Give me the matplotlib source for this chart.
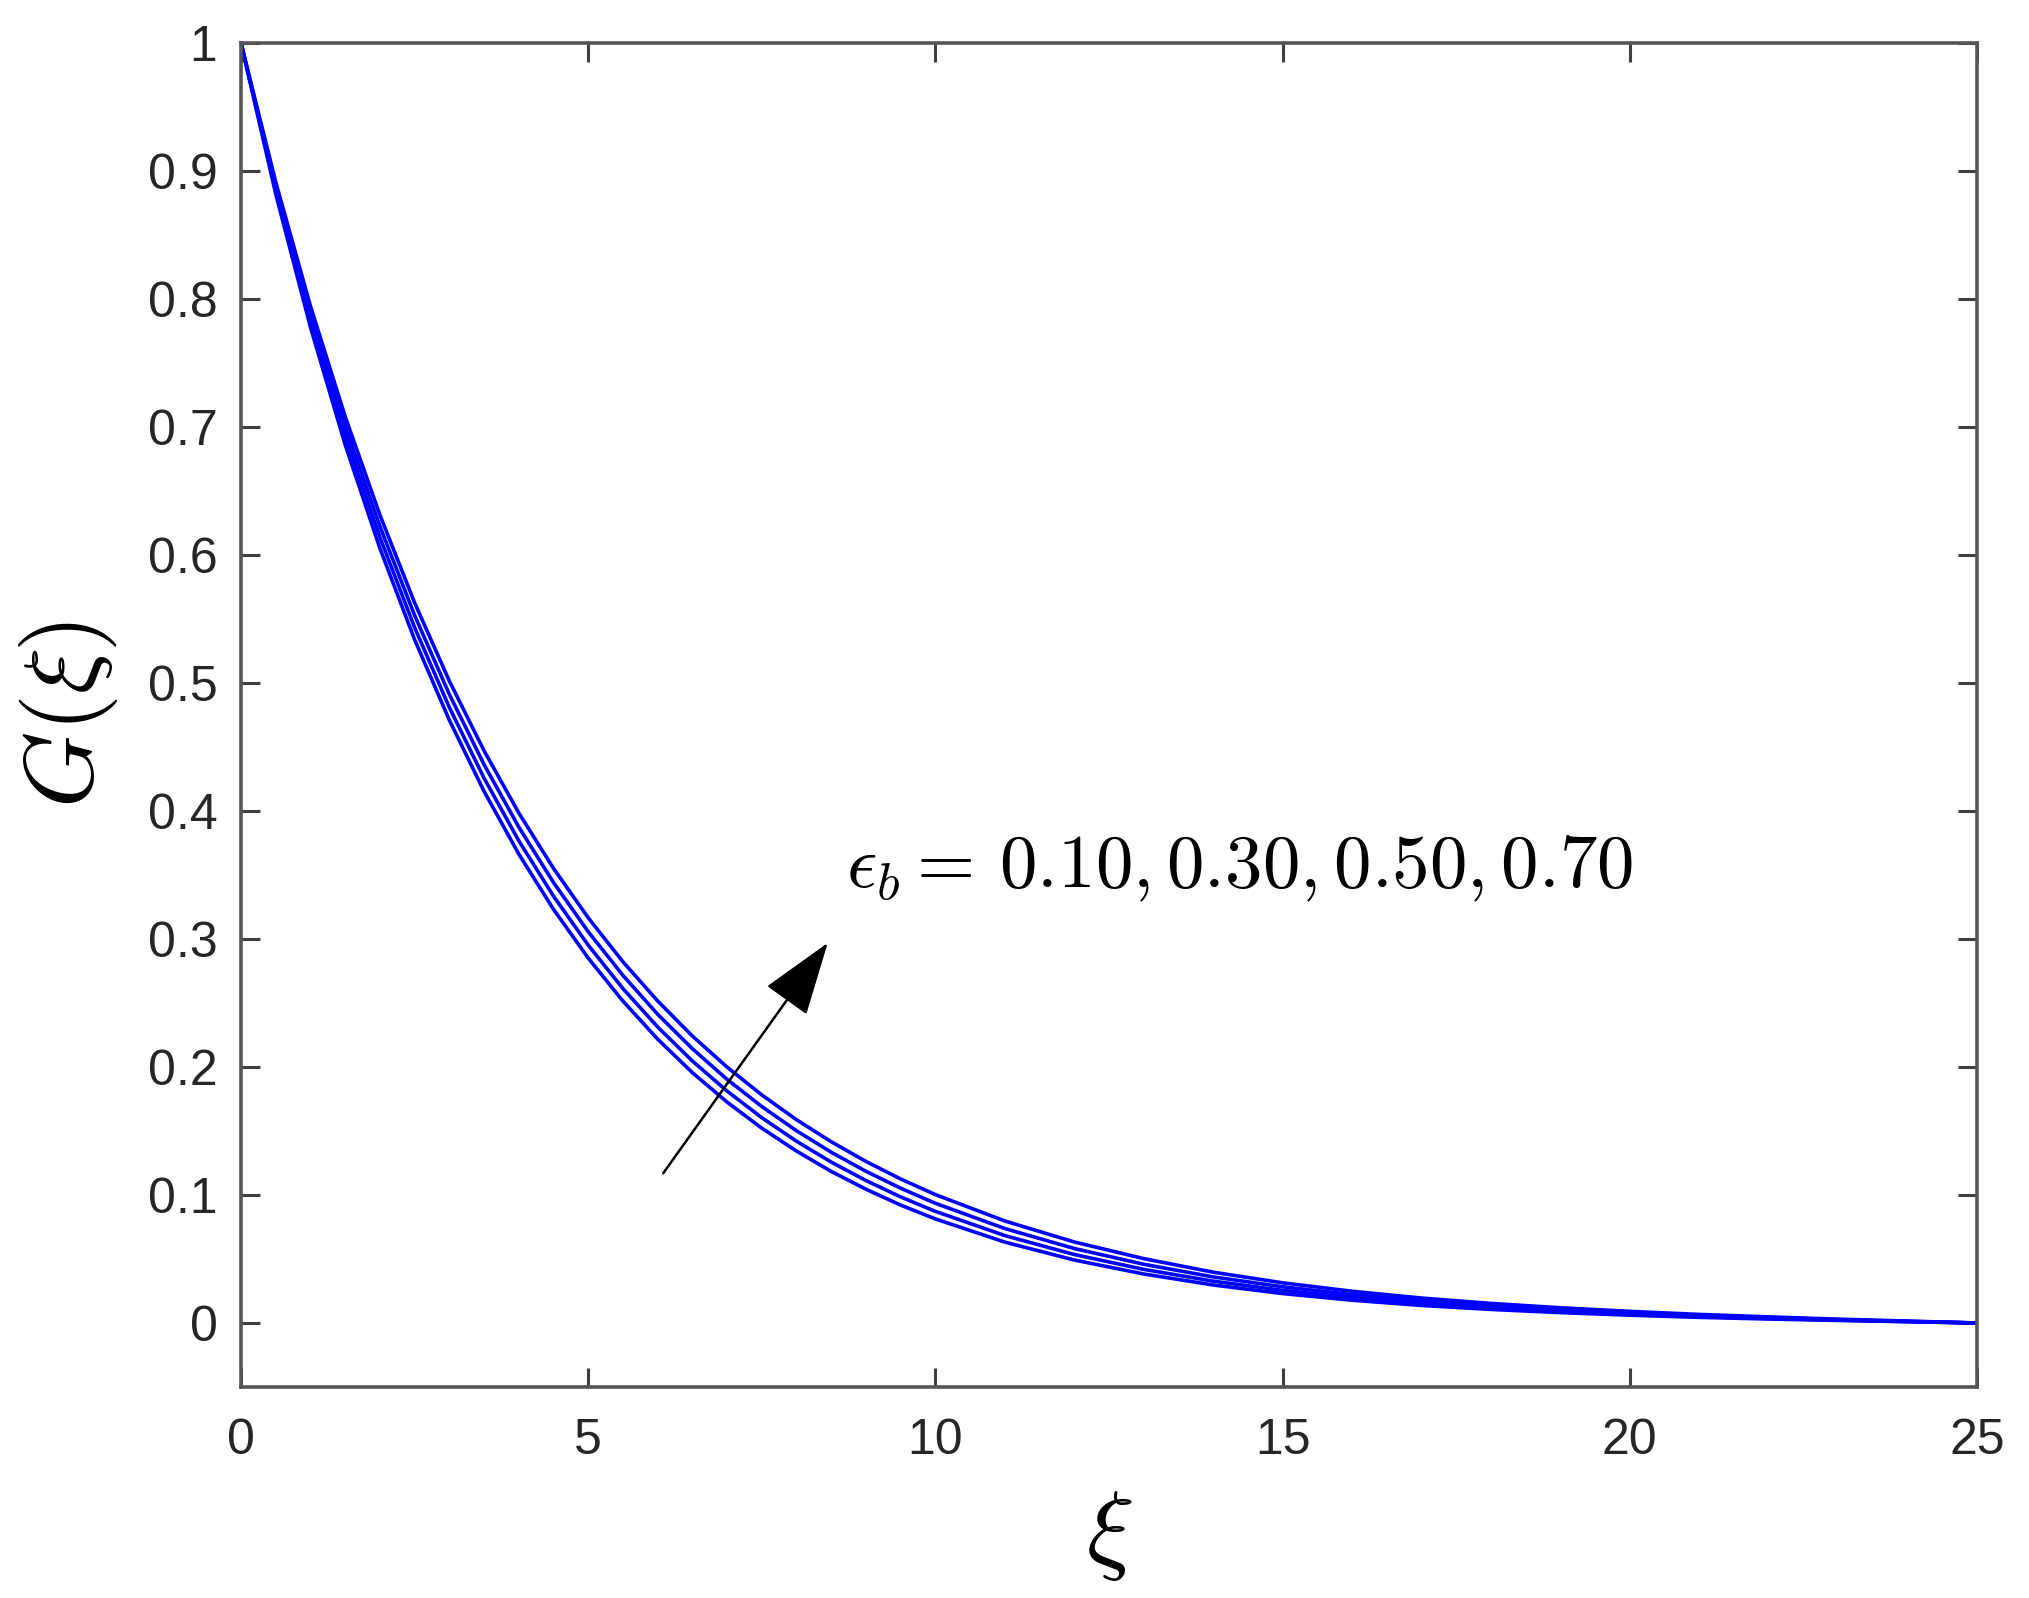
import numpy as np
from matplotlib import pyplot as plt

plt.rcParams['mathtext.fontset'] = 'cm'
plt.rcParams['font.family'] = ['Liberation Sans', 'DejaVu Sans']

xi = [0, 0.5, 1, 1.5, 2, 2.5, 3, 3.5, 4, 4.5, 5, 5.5, 6, 6.5, 7, 7.5, 8, 8.5, 9, 9.5,
      10, 11, 12, 13, 14, 15, 16, 17, 18, 19, 20, 21, 22, 23, 24, 25]

# eps_b = 0.10 (lowest curve)
g_010 = [1.0, 0.8821, 0.7780, 0.6862, 0.6053, 0.5339, 0.4710, 0.4154, 0.3664, 0.3232,
         0.2851, 0.2515, 0.2218, 0.1956, 0.1726, 0.1522, 0.1343, 0.1184, 0.1045, 0.0921,
         0.0813, 0.0632, 0.0492, 0.0383, 0.0297, 0.0230, 0.0178, 0.0137, 0.0106, 0.0081,
         0.0061, 0.0044, 0.0031, 0.0020, 0.0010, 0.0]
# eps_b = 0.30
g_030 = [1.0, 0.8851, 0.7835, 0.6935, 0.6139, 0.5434, 0.4810, 0.4257, 0.3768, 0.3335,
         0.2952, 0.2613, 0.2313, 0.2047, 0.1812, 0.1604, 0.1420, 0.1257, 0.1113, 0.0985,
         0.0872, 0.0683, 0.0535, 0.0419, 0.0327, 0.0255, 0.0199, 0.0155, 0.0120, 0.0092,
         0.0069, 0.0051, 0.0036, 0.0023, 0.0011, 0.0]
# eps_b = 0.50
g_050 = [1.0, 0.8882, 0.7890, 0.7008, 0.6225, 0.5529, 0.4912, 0.4363, 0.3875, 0.3442,
         0.3057, 0.2716, 0.2412, 0.2143, 0.1903, 0.1691, 0.1502, 0.1334, 0.1185, 0.1053,
         0.0935, 0.0738, 0.0582, 0.0459, 0.0360, 0.0283, 0.0222, 0.0174, 0.0135, 0.0104,
         0.0079, 0.0059, 0.0041, 0.0026, 0.0013, 0.0]
# eps_b = 0.70 (highest curve)
g_070 = [1.0, 0.8914, 0.7945, 0.7082, 0.6313, 0.5627, 0.5016, 0.4471, 0.3985, 0.3552,
         0.3166, 0.2822, 0.2516, 0.2242, 0.1999, 0.1782, 0.1588, 0.1416, 0.1262, 0.1125,
         0.1003, 0.0797, 0.0633, 0.0503, 0.0397, 0.0314, 0.0248, 0.0195, 0.0153, 0.0119,
         0.0091, 0.0067, 0.0048, 0.0030, 0.0015, 0.0]

xticks = [0, 5, 10, 15, 20, 25]
yticks = [0, 0.1, 0.2, 0.3, 0.4, 0.5, 0.6, 0.7, 0.8, 0.9, 1]
ytick_labels = ['0', '0.1', '0.2', '0.3', '0.4', '0.5', '0.6', '0.7', '0.8', '0.9', '1']

fig = plt.figure(figsize=(20.29, 15.98), dpi=100)
ax = fig.add_axes([241/2029, 1-1387/1598, 1736/2029, 1344/1598])

for g in (g_010, g_030, g_050, g_070):
    ax.plot(xi, g, color='blue', lw=2.6)

ax.set_xlim(0, 25)
ax.set_ylim(-0.05, 1)
ax.set_xticks(xticks)
ax.set_yticks(yticks)
ax.set_yticklabels(ytick_labels)

ax.tick_params(direction='in', top=True, right=True, length=14, width=2.2,
               color='#404040', labelsize=36, labelcolor='#262626')
ax.tick_params(axis='x', pad=22)
ax.tick_params(axis='y', pad=17)
for s in ax.spines.values():
    s.set_linewidth(2.6)
    s.set_color('#555555')

ax.set_xlabel(r'$\xi$', fontsize=72)
ax.set_ylabel(r'$G(\xi)$', fontsize=70)
ax.xaxis.set_label_coords(0.5, -0.076)
ax.yaxis.set_label_coords(-0.0697, 0.5)

ax.annotate('', xy=(8.45, 0.297), xytext=(6.08, 0.117),
            arrowprops=dict(arrowstyle='-|>,head_length=47,head_width=16',
                            mutation_scale=1, color='black', lw=1.8,
                            shrinkA=0, shrinkB=0))
ax.text(8.71, 0.340, r'$\epsilon_b =\, 0.10, 0.30, 0.50, 0.70$', fontsize=54,
        va='baseline', ha='left')

plt.savefig('out.png', dpi=100)
